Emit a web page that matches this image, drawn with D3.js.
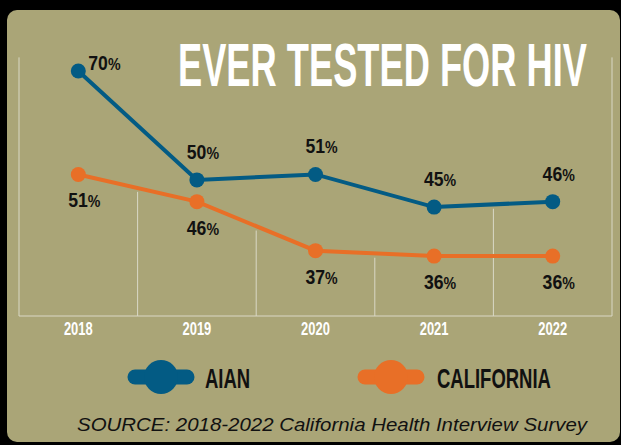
<!DOCTYPE html>
<html>
<head>
<meta charset="utf-8">
<script src="https://cdn.jsdelivr.net/npm/d3@7"></script>
<style>
  body { margin: 0; background: #000; }
  svg { display: block; }
  .bold { font-family: "Liberation Sans", Arial, sans-serif; font-weight: bold; }
</style>
</head>
<body>
<div id="chart"></div>
<script>
const years = ["2018", "2019", "2020", "2021", "2022"];
const aian = [70, 50, 51, 45, 46];
const california = [51, 46, 37, 36, 36];
// where each vertical gridline stops (in % units), left to right
const gridTop = [72.5, 47.8, 40.7, 35.7, 44.7, 72.5];

const W = 621, H = 445;

const svg = d3.select("#chart")
  .append("svg")
  .attr("width", W)
  .attr("height", H);

svg.append("rect").attr("width", W).attr("height", H).attr("fill", "#000");

// panel
svg.append("rect")
  .attr("x", 7).attr("y", 10)
  .attr("width", 613).attr("height", 432)
  .attr("rx", 10)
  .attr("fill", "#aaa577");

// condensed text: squeeze horizontally inside a group
function condText(parent, tx, ty, sx) {
  return parent.append("g")
    .attr("transform", `translate(${tx},${ty}) scale(${sx},1)`)
    .append("text")
    .attr("class", "bold");
}

const x = d3.scaleBand().domain(years).range([19, 612]);
const y = d3.scaleLinear().domain([25, 70]).range([316, 71]);
const cx = d => x(d) + x.bandwidth() / 2;

const grid = "#d9d8c6";

// vertical gridlines at band edges
const edges = years.map(d => x(d)).concat([x.range()[1]]);
svg.append("g").selectAll("line")
  .data(edges)
  .join("line")
  .attr("x1", d => d).attr("x2", d => d)
  .attr("y1", y(25))
  .attr("y2", (d, i) => y(gridTop[i]))
  .attr("stroke", grid)
  .attr("stroke-width", 1);

// baseline
svg.append("line")
  .attr("x1", x.range()[0]).attr("x2", x.range()[1])
  .attr("y1", y(25)).attr("y2", y(25))
  .attr("stroke", grid).attr("stroke-width", 1.2);

// x labels
const xg = svg.append("g");
years.forEach(d => {
  condText(xg, cx(d), 335, 0.74)
    .attr("text-anchor", "middle")
    .attr("fill", "#fff")
    .style("font-size", "17.5px")
    .text(d);
});

// title
condText(svg, 178, 86, 0.585)
  .attr("fill", "#fff")
  .style("font-size", "62px")
  .text("EVER TESTED FOR HIV");

const series = [
  { name: "AIAN", values: aian, color: "#035b84", above: true },
  { name: "CALIFORNIA", values: california, color: "#e86f27", above: false }
];

const line = d3.line()
  .x((d, i) => cx(years[i]))
  .y(d => y(d));

series.forEach(s => {
  const g = svg.append("g");
  g.append("path")
    .attr("d", line(s.values))
    .attr("fill", "none")
    .attr("stroke", s.color)
    .attr("stroke-width", 4);

  g.selectAll("circle")
    .data(s.values)
    .join("circle")
    .attr("cx", (d, i) => cx(years[i]))
    .attr("cy", d => y(d))
    .attr("r", 7.5)
    .attr("fill", s.color);

  s.values.forEach((d, i) => {
    const first = s.above && i === 0;
    const lx = first ? cx(years[i]) + 10 : cx(years[i]) + 6;
    const ly = first ? y(d) - 1 : (s.above ? y(d) - 21 : y(d) + 33);
    const t = condText(g, lx, ly, 0.86)
      .attr("text-anchor", first ? "start" : "middle")
      .attr("fill", "#111")
      .style("font-size", "20.5px");
    t.append("tspan").text(d);
    t.append("tspan").style("font-size", "16.5px").text("%");
  });
});

// legend
const legend = [
  { name: "AIAN", color: "#035b84", x: 161, tx: 205 },
  { name: "CALIFORNIA", color: "#e86f27", x: 391, tx: 437 }
];
const lg = svg.append("g");
legend.forEach(l => {
  lg.append("line")
    .attr("x1", l.x - 26).attr("x2", l.x + 26)
    .attr("y1", 377).attr("y2", 377)
    .attr("stroke", l.color)
    .attr("stroke-width", 15)
    .attr("stroke-linecap", "round");
  lg.append("circle")
    .attr("cx", l.x).attr("cy", 377).attr("r", 17)
    .attr("fill", l.color);
  condText(lg, l.tx, 388, 0.66)
    .attr("fill", "#111")
    .style("font-size", "28px")
    .text(l.name);
});

// source
svg.append("text")
  .attr("x", 77).attr("y", 431)
  .attr("fill", "#111")
  .attr("textLength", 510)
  .attr("lengthAdjust", "spacingAndGlyphs")
  .style("font-family", "'Liberation Sans', Arial, sans-serif")
  .style("font-style", "italic")
  .style("font-size", "18px")
  .text("SOURCE: 2018-2022 California Health Interview Survey");
</script>
</body>
</html>
